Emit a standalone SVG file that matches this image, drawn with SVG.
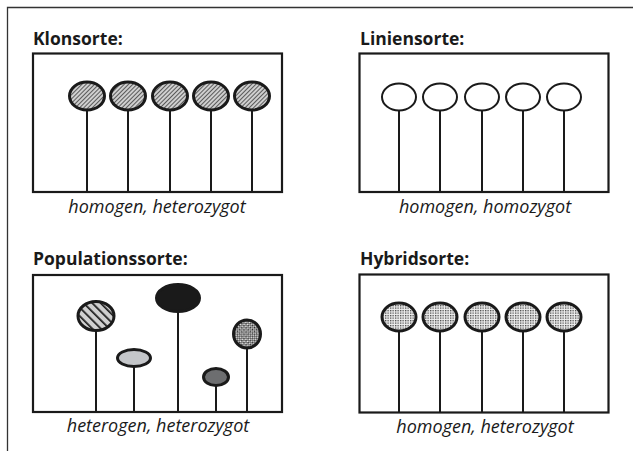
<svg xmlns="http://www.w3.org/2000/svg" width="633" height="451" viewBox="0 0 633 451">
<defs>
<pattern id="hatchFine" patternUnits="userSpaceOnUse" width="3" height="3" patternTransform="rotate(45)">
<rect width="3" height="3" fill="#cfcfcf"/>
<line x1="0" y1="0" x2="0" y2="3" stroke="#333" stroke-width="1.5"/>
</pattern>
<pattern id="stripes" patternUnits="userSpaceOnUse" width="6" height="6" patternTransform="rotate(-45)">
<rect width="6" height="6" fill="#d0d0d0"/>
<line x1="0" y1="0" x2="0" y2="6" stroke="#1a1a1a" stroke-width="3.4"/>
</pattern>
<pattern id="dots" patternUnits="userSpaceOnUse" width="2.5" height="2.5">
<rect width="2.5" height="2.5" fill="#eeeeee"/>
<rect width="1.3" height="1.3" fill="#444"/>
</pattern>
<pattern id="checker" patternUnits="userSpaceOnUse" width="3" height="3" patternTransform="rotate(45)">
<rect width="3" height="3" fill="#eee"/>
<rect width="1.6" height="1.6" fill="#222"/>
<rect x="1.5" y="1.5" width="1.5" height="1.5" fill="#444"/>
</pattern>
</defs>
<style>
.frame{fill:none;stroke:#333;stroke-width:1.3}
.box{fill:#fff;stroke:#1a1a1a;stroke-width:2.2}
.stem{stroke:#1a1a1a;stroke-width:2}
.head{stroke:#1a1a1a;stroke-width:3}
.open{fill:#fff;stroke:#1a1a1a;stroke-width:2}
.title{font-family:"Open Sans","Liberation Sans",sans-serif;font-weight:bold;font-size:17.5px;fill:#1a1a1a}
.cap{font-family:"Open Sans","Liberation Sans",sans-serif;font-style:italic;font-size:18px;fill:#1a1a1a;text-anchor:middle}
</style>
<path class="frame" d="M7.5,451 V7.5 H633"/>

<g id="klonsorte">
<text class="title" x="33" y="45">Klonsorte:</text>
<rect class="box" x="33" y="53.5" width="249" height="138.5"/>
<line class="stem" x1="87" y1="110" x2="87" y2="192"/>
<line class="stem" x1="128" y1="110" x2="128" y2="192"/>
<line class="stem" x1="170" y1="110" x2="170" y2="192"/>
<line class="stem" x1="211" y1="110" x2="211" y2="192"/>
<line class="stem" x1="252" y1="110" x2="252" y2="192"/>
<ellipse class="head" cx="87" cy="96" rx="17.5" ry="14" fill="url(#hatchFine)"/>
<ellipse class="head" cx="128" cy="96" rx="17.5" ry="14" fill="url(#hatchFine)"/>
<ellipse class="head" cx="170" cy="96" rx="17.5" ry="14" fill="url(#hatchFine)"/>
<ellipse class="head" cx="211" cy="96" rx="17.5" ry="14" fill="url(#hatchFine)"/>
<ellipse class="head" cx="252" cy="96" rx="17.5" ry="14" fill="url(#hatchFine)"/>
<text class="cap" x="157" y="213">homogen, heterozygot</text>
</g>

<g id="liniensorte">
<text class="title" x="360" y="45">Liniensorte:</text>
<rect class="box" x="359.5" y="53.5" width="249" height="138.5"/>
<line class="stem" x1="399" y1="110" x2="399" y2="192"/>
<line class="stem" x1="440" y1="110" x2="440" y2="192"/>
<line class="stem" x1="482" y1="110" x2="482" y2="192"/>
<line class="stem" x1="523" y1="110" x2="523" y2="192"/>
<line class="stem" x1="564" y1="110" x2="564" y2="192"/>
<ellipse class="open" cx="399" cy="97" rx="17" ry="13.5"/>
<ellipse class="open" cx="440" cy="97" rx="17" ry="13.5"/>
<ellipse class="open" cx="482" cy="97" rx="17" ry="13.5"/>
<ellipse class="open" cx="523" cy="97" rx="17" ry="13.5"/>
<ellipse class="open" cx="564" cy="97" rx="17" ry="13.5"/>
<text class="cap" x="485" y="213">homogen, homozygot</text>
</g>

<g id="populationssorte">
<text class="title" x="33" y="265">Populationssorte:</text>
<rect class="box" x="33" y="275" width="249" height="137"/>
<line class="stem" x1="96" y1="330" x2="96" y2="412"/>
<line class="stem" x1="134" y1="366" x2="134" y2="412"/>
<line class="stem" x1="178" y1="310" x2="178" y2="412"/>
<line class="stem" x1="216" y1="385" x2="216" y2="412"/>
<line class="stem" x1="247" y1="348" x2="247" y2="412"/>
<ellipse class="head" cx="96" cy="316" rx="18" ry="14.5" fill="url(#stripes)"/>
<ellipse class="head" cx="134" cy="358" rx="16.5" ry="8.5" fill="#c4c6c9"/>
<ellipse class="head" cx="178" cy="298" rx="21.5" ry="13.5" fill="#1a1a1a"/>
<ellipse class="head" cx="216" cy="377" rx="12.5" ry="8.5" fill="#6d6e70"/>
<ellipse class="head" cx="247" cy="334" rx="13.5" ry="14" fill="url(#checker)"/>
<text class="cap" x="158" y="432">heterogen, heterozygot</text>
</g>

<g id="hybridsorte">
<text class="title" x="360" y="265">Hybridsorte:</text>
<rect class="box" x="359.5" y="274.5" width="249" height="138"/>
<line class="stem" x1="399" y1="330" x2="399" y2="412"/>
<line class="stem" x1="440" y1="330" x2="440" y2="412"/>
<line class="stem" x1="482" y1="330" x2="482" y2="412"/>
<line class="stem" x1="523" y1="330" x2="523" y2="412"/>
<line class="stem" x1="564" y1="330" x2="564" y2="412"/>
<ellipse class="head" cx="399" cy="317" rx="17" ry="14" fill="url(#dots)"/>
<ellipse class="head" cx="440" cy="317" rx="17" ry="14" fill="url(#dots)"/>
<ellipse class="head" cx="482" cy="317" rx="17" ry="14" fill="url(#dots)"/>
<ellipse class="head" cx="523" cy="317" rx="17" ry="14" fill="url(#dots)"/>
<ellipse class="head" cx="564" cy="317" rx="17" ry="14" fill="url(#dots)"/>
<text class="cap" x="485" y="433">homogen, heterozygot</text>
</g>
</svg>
